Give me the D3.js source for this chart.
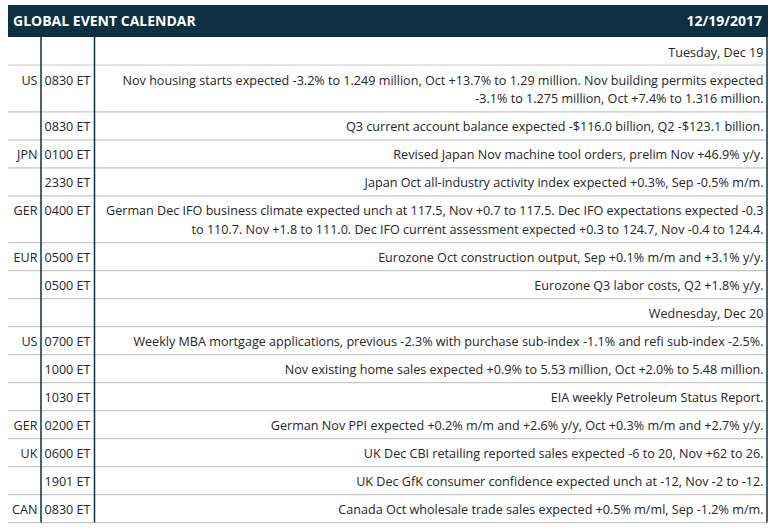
<!DOCTYPE html>
<html><head><meta charset="utf-8">
<script src="https://cdn.jsdelivr.net/npm/d3@7"></script>
<style>
html,body{margin:0;padding:0;background:#fff;}
svg{display:block;font-family:"Open Sans",sans-serif;}
</style></head>
<body>
<svg id="chart" width="773" height="528"></svg>
<script>
const title = "GLOBAL EVENT CALENDAR";
const dateLabel = "12/19/2017";
const countries = ["", "US", "", "JPN", "", "GER", "EUR", "", "", "US", "", "", "GER", "UK", "", "CAN"];
const times = ["", "0830 ET", "0830 ET", "0100 ET", "2330 ET", "0400 ET", "0500 ET", "0500 ET", "", "0700 ET", "1000 ET", "1030 ET", "0200 ET", "0600 ET", "1901 ET", "0830 ET"];
const events = [
  ["Tuesday, Dec 19"],
  ["Nov housing starts expected -3.2% to 1.249 million, Oct +13.7% to 1.29 million. Nov building permits expected",
   "-3.1% to 1.275 million, Oct +7.4% to 1.316 million."],
  ["Q3 current account balance expected -$116.0 billion, Q2 -$123.1 billion."],
  ["Revised Japan Nov machine tool orders, prelim Nov +46.9% y/y."],
  ["Japan Oct all-industry activity index expected +0.3%, Sep -0.5% m/m."],
  ["German Dec IFO business climate expected unch at 117.5, Nov +0.7 to 117.5. Dec IFO expectations expected -0.3",
   "to 110.7. Nov +1.8 to 111.0. Dec IFO current assessment expected +0.3 to 124.7, Nov -0.4 to 124.4."],
  ["Eurozone Oct construction output, Sep +0.1% m/m and +3.1% y/y."],
  ["Eurozone Q3 labor costs, Q2 +1.8% y/y."],
  ["Wednesday, Dec 20"],
  ["Weekly MBA mortgage applications, previous -2.3% with purchase sub-index -1.1% and refi sub-index -2.5%."],
  ["Nov existing home sales expected +0.9% to 5.53 million, Oct +2.0% to 5.48 million."],
  ["EIA weekly Petroleum Status Report."],
  ["German Nov PPI expected +0.2% m/m and +2.6% y/y, Oct +0.3% m/m and +2.7% y/y."],
  ["UK Dec CBI retailing reported sales expected -6 to 20, Nov +62 to 26."],
  ["UK Dec GfK consumer confidence expected unch at -12, Nov -2 to -12."],
  ["Canada Oct wholesale trade sales expected +0.5% m/ml, Sep -1.2% m/m."]
];

const svg = d3.select("#chart");
const xLeft = 8, xRight = 767, yTop = 5, headH = 32;
const col1 = 41, col2 = 94.5;
const navy = "#0c2f42";
const baseH = 28, lineH = 18.8;

const heights = events.map(e => baseH + (e.length - 1) * lineH);
const ys = [];
let acc = yTop + headH;
heights.forEach(h => { ys.push(acc); acc += h; });
const yBottom = acc;

const rows = events.map((e, i) => ({country: countries[i], time: times[i], lines: e, y: ys[i], h: heights[i]}));

// header
svg.append("rect").attr("x", xLeft).attr("y", yTop).attr("width", xRight - xLeft + 1).attr("height", headH).attr("fill", navy);
svg.append("text").attr("x", xLeft + 5).attr("y", yTop + headH / 2).attr("dy", "0.36em")
  .attr("fill", "#fff").attr("font-weight", 700).attr("font-size", 14).text(title);
svg.append("text").attr("x", xRight - 5).attr("y", yTop + headH / 2).attr("dy", "0.36em")
  .attr("text-anchor", "end").attr("fill", "#fff").attr("font-weight", 700).attr("font-size", 14).text(dateLabel);

// row lines
svg.selectAll("line.row").data(rows).enter().append("line").attr("class", "row")
  .attr("x1", xLeft).attr("x2", xRight).attr("y1", d => d.y + d.h).attr("y2", d => d.y + d.h)
  .attr("stroke", "#c8c8c8").attr("stroke-width", 1.2);

// vertical lines
[col1, col2, xRight].forEach(x => {
  svg.append("line").attr("x1", x).attr("x2", x).attr("y1", yTop + headH).attr("y2", yBottom)
    .attr("stroke", navy).attr("stroke-width", 1.5);
});

const g = svg.selectAll("g.r").data(rows).enter().append("g").attr("class", "r")
  .attr("transform", d => `translate(0,${d.y})`);
const fs = 12.6, col = "#262626";
g.append("text").attr("x", col1 - 3.5).attr("y", 15).attr("dy", "0.36em").attr("text-anchor", "end")
  .attr("font-size", fs).attr("fill", col).text(d => d.country);
g.append("text").attr("x", col2 - 4).attr("y", 15).attr("dy", "0.36em").attr("text-anchor", "end")
  .attr("font-size", fs).attr("fill", col).text(d => d.time);
g.each(function(d) {
  d3.select(this).selectAll("text.ev").data(d.lines).enter().append("text").attr("class", "ev")
    .attr("x", xRight - 3.5).attr("y", (l, j) => 15 + j * lineH).attr("dy", "0.36em")
    .attr("text-anchor", "end").attr("font-size", fs).attr("fill", col).text(l => l);
});
</script>
</body></html>
